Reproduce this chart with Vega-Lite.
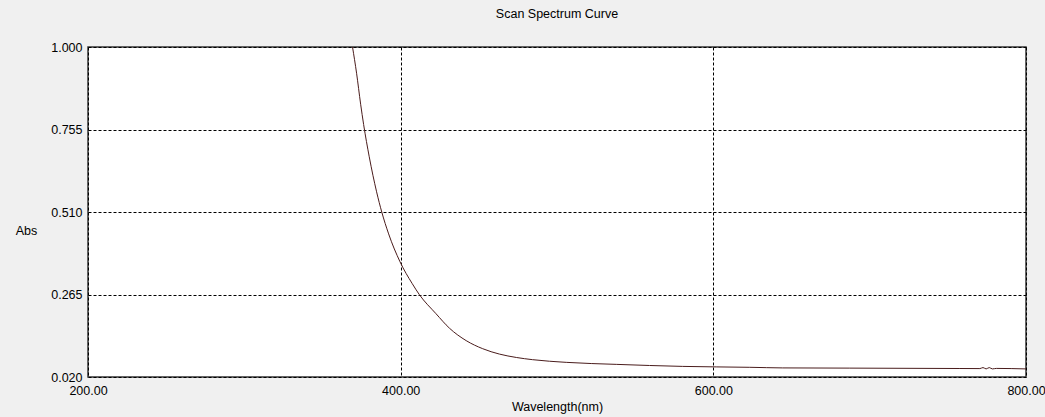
{
  "$schema": "https://vega.github.io/schema/vega-lite/v6.json",
  "width": 938,
  "height": 330,
  "autosize": {"type": "none"},
  "padding": {"left": 88, "top": 47, "right": 19, "bottom": 40},
  "background": "#f0f0f0",
  "title": {
    "text": "Scan Spectrum Curve",
    "frame": "group",
    "anchor": "middle",
    "baseline": "alphabetic",
    "offset": 11,
    "fontSize": 12.5,
    "fontWeight": "normal",
    "font": "Liberation Sans",
    "color": "#000000"
  },
  "data": {
    "values": [
      {"wl": 369.2, "abs": 1.000},
      {"wl": 371.8, "abs": 0.922},
      {"wl": 374.4, "abs": 0.830},
      {"wl": 376.3, "abs": 0.770},
      {"wl": 379.9, "abs": 0.674},
      {"wl": 384.6, "abs": 0.570},
      {"wl": 387.9, "abs": 0.510},
      {"wl": 392.3, "abs": 0.445},
      {"wl": 399.6, "abs": 0.362},
      {"wl": 407.3, "abs": 0.298},
      {"wl": 411.9, "abs": 0.265},
      {"wl": 422.6, "abs": 0.208},
      {"wl": 431.2, "abs": 0.165},
      {"wl": 441.9, "abs": 0.128},
      {"wl": 452.5, "abs": 0.104},
      {"wl": 463.2, "abs": 0.088},
      {"wl": 474.0, "abs": 0.078},
      {"wl": 484.3, "abs": 0.0715},
      {"wl": 505.9, "abs": 0.0635},
      {"wl": 537.9, "abs": 0.0575},
      {"wl": 580.4, "abs": 0.0515},
      {"wl": 623.3, "abs": 0.0488},
      {"wl": 644.4, "abs": 0.0470},
      {"wl": 687.3, "abs": 0.0464},
      {"wl": 757.7, "abs": 0.0452},
      {"wl": 770.5, "abs": 0.0450},
      {"wl": 772.5, "abs": 0.0480},
      {"wl": 774.5, "abs": 0.0440},
      {"wl": 776.5, "abs": 0.0480},
      {"wl": 778.5, "abs": 0.0440},
      {"wl": 781.0, "abs": 0.0455},
      {"wl": 800.0, "abs": 0.0440}
    ]
  },
  "mark": {"type": "line", "color": "#4a1c1c", "strokeWidth": 1, "clip": true, "interpolate": "monotone"},
  "encoding": {
    "x": {
      "field": "wl",
      "type": "quantitative",
      "scale": {"domain": [200, 800], "nice": false, "zero": false},
      "axis": {
        "title": "Wavelength(nm)",
        "values": [200, 400, 600, 800],
        "format": ".2f",
        "titleY": 33,
        "titleBaseline": "alphabetic"
      }
    },
    "y": {
      "field": "abs",
      "type": "quantitative",
      "scale": {"domain": [0.02, 1.0], "nice": false, "zero": false},
      "axis": {
        "title": "Abs",
        "values": [0.02, 0.265, 0.51, 0.755, 1.0],
        "format": ".3f",
        "titleAngle": 0,
        "titleX": -62,
        "titleY": 187,
        "titleAlign": "center",
        "titleBaseline": "alphabetic"
      }
    }
  },
  "config": {
    "view": {"fill": "#ffffff", "stroke": "#333333", "strokeWidth": 1.5},
    "axis": {
      "domain": false,
      "ticks": false,
      "tickSize": 0,
      "grid": true,
      "gridColor": "#000000",
      "gridOpacity": 1,
      "gridWidth": 1,
      "gridDash": [3, 2],
      "labelFont": "Liberation Sans",
      "labelFontSize": 12.5,
      "labelColor": "#000000",
      "labelPadding": 6,
      "labelFlush": false,
      "labelOverlap": false,
      "labelBound": false,
      "titleFont": "Liberation Sans",
      "titleFontSize": 12.5,
      "titleFontWeight": "normal",
      "titleColor": "#000000"
    },
    "axisX": {"labelPadding": 7}
  }
}
